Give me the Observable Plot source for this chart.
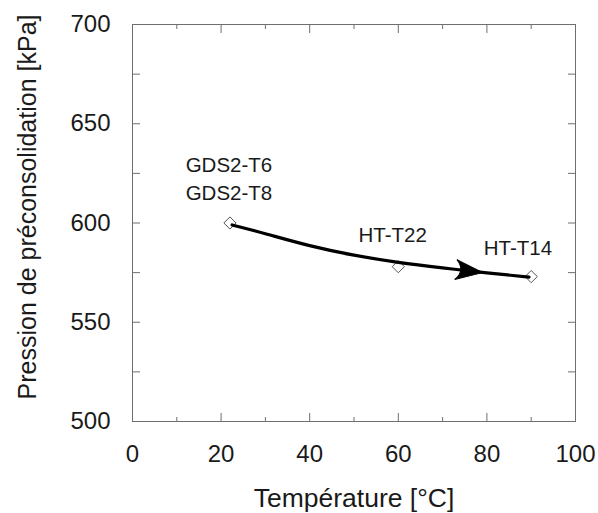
<!DOCTYPE html>
<html>
<head>
<meta charset="utf-8">
<script src="https://cdn.jsdelivr.net/npm/d3@7"></script>
<script src="https://cdn.jsdelivr.net/npm/@observablehq/plot@0.6"></script>
<style>
  html, body { margin: 0; padding: 0; background: #fff; }
  #chart { width: 598px; height: 513px; }
</style>
</head>
<body>
<div id="chart"></div>
<script>
// ---- data ----
const sampleTemps = [22, 60, 90];
const samplePressures = [600, 578, 573];

const curveTemps = [22.5, 30, 40, 50, 60, 70, 80, 89.5];
const curvePressures = [599, 594.6, 588.6, 583.8, 580.2, 577.4, 574.9, 572.7];

const arrowTemp = [75.9];
const arrowPressure = [575.8];

const labelNames = ["GDS2-T6", "GDS2-T8", "HT-T22", "HT-T14"];
const labelTemps = [12, 12, 51, 79.3];
const labelPressures = [628.8, 615.1, 593.7, 587.4];

const xMajorTicks = [0, 20, 40, 60, 80, 100];
const xMinorTicks = [10, 30, 50, 70, 90];
const yAllTicks = [500, 525, 550, 575, 600, 625, 650, 675, 700];
const yTickLabels = [500, 550, 600, 650, 700];

const xTitle = "Température [°C]";
const yTitle = "Pression de préconsolidation [kPa]";

// ---- build ----
const points = sampleTemps.map((t, i) => ({t, p: samplePressures[i]}));
const curve = curveTemps.map((t, i) => ({t, p: curvePressures[i]}));
const arrow = arrowTemp.map((t, i) => ({t, p: arrowPressure[i]}));
const labels = labelNames.map((name, i) => ({name, t: labelTemps[i], p: labelPressures[i]}));

const arrowSymbol = {
  draw(context) {
    context.moveTo(0, -14);
    context.lineTo(10, 13);
    context.quadraticCurveTo(0, 3, -10, 13);
    context.closePath();
  }
};

const axisColor = "#6e6e6e";
const textColor = "#1a1a1a";
const font = "'Liberation Sans', Arial, sans-serif";

const chart = Plot.plot({
  width: 598,
  height: 513,
  marginLeft: 132,
  marginRight: 23,
  marginTop: 24,
  marginBottom: 92,
  style: {fontFamily: font, background: "#fff", color: textColor},
  x: {domain: [0, 100], axis: null},
  y: {domain: [500, 700], axis: null},
  marks: [
    // inward ticks
    Plot.axisX(xMajorTicks, {anchor: "bottom", tickSize: -8, tickFormat: () => "", label: null, stroke: axisColor}),
    Plot.axisX(xMajorTicks, {anchor: "top", tickSize: -8, tickFormat: () => "", label: null, stroke: axisColor}),
    Plot.axisX(xMinorTicks, {anchor: "bottom", tickSize: -4, tickFormat: () => "", label: null, stroke: axisColor}),
    Plot.axisX(xMinorTicks, {anchor: "top", tickSize: -4, tickFormat: () => "", label: null, stroke: axisColor}),
    Plot.axisY(yAllTicks, {anchor: "left", tickSize: -8, tickFormat: () => "", label: null, stroke: axisColor}),
    Plot.axisY(yAllTicks, {anchor: "right", tickSize: -8, tickFormat: () => "", label: null, stroke: axisColor}),
    Plot.frame({stroke: axisColor, strokeWidth: 1}),
    // tick labels
    Plot.text(xMajorTicks, {x: d => d, frameAnchor: "bottom", dy: 33, text: d => String(d),
      fontSize: 24, fill: textColor, textAnchor: "middle", lineAnchor: "middle"}),
    Plot.text(yTickLabels, {y: d => d, frameAnchor: "left", dx: -22, text: d => String(d),
      fontSize: 24, fill: textColor, textAnchor: "end", lineAnchor: "middle"}),
    // axis titles
    Plot.text([xTitle], {frameAnchor: "bottom", dy: 77, text: d => d, fontSize: 26.5,
      fill: textColor, textAnchor: "middle", lineAnchor: "middle"}),
    Plot.text([yTitle], {frameAnchor: "left", dx: -105, dy: -16, rotate: -90, text: d => d,
      fontSize: 25, fill: textColor, textAnchor: "middle", lineAnchor: "middle"}),
    // data
    Plot.dot(points, {x: "t", y: "p", symbol: "diamond2", r: 5.5, stroke: "#555", fill: "white", strokeWidth: 1}),
    Plot.line(curve, {x: "t", y: "p", curve: "natural", stroke: "black", strokeWidth: 3.2}),
    Plot.dot(arrow, {x: "t", y: "p", symbol: arrowSymbol, rotate: 96.5, fill: "black", stroke: "black", strokeWidth: 1}),
    Plot.text(labels, {x: "t", y: "p", text: "name", textAnchor: "start", lineAnchor: "middle",
      fontSize: 20.5, fill: textColor})
  ]
});

document.getElementById("chart").appendChild(chart);
</script>
</body>
</html>
